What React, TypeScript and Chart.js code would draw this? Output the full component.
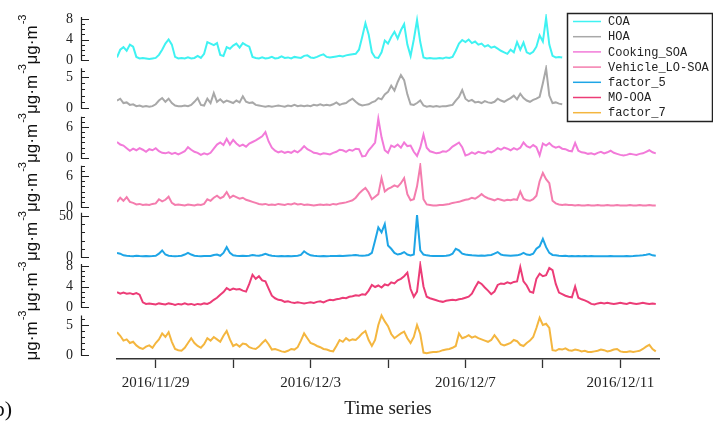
import React, { useEffect, useRef } from 'react';
import { Chart, registerables } from 'chart.js';
Chart.register(...registerables);

const SERIF = '"Liberation Serif", "Times New Roman", serif';
const SANS = '"Liberation Sans", Arial, sans-serif';
const MONO = '"Liberation Mono", "Courier New", monospace';

// ---------- data ----------
const SERIES_NAMES = ['COA', 'HOA', 'Cooking_SOA', 'Vehicle_LO-SOA', 'factor_5', 'MO-OOA', 'factor_7'];
const START_DATE = '2016/11/28 00:00';
const STEP_HOURS = 2;
const X_TICK_HOURS = [24, 72, 120, 168, 216, 264, 312];
const X_TICK_LABELS = ['2016/11/29', '', '2016/12/3', '', '2016/12/7', '', '2016/12/11'];
const X_TITLE = 'Time series';
const UNIT_MAIN = 'μg·m';
const UNIT_SUP = '-3';

const Y_TICKS = [[0, 4, 8], [0, 5], [0, 6], [0, 6], [0, 50], [0, 4, 8], [0, 5]];

const COA = [
  0.5, 2.0, 2.5, 1.8, 3.0, 2.6, 0.6, 0.3, 0.4, 0.3, 0.2, 0.3,
  0.4, 1.0, 2.0, 3.2, 4.0, 3.0, 0.6, 0.3, 0.4, 0.3, 0.5, 0.3,
  0.4, 0.8, 0.4, 1.2, 3.5, 3.2, 2.9, 3.3, 1.0, 0.8, 2.5, 2.2,
  2.8, 3.2, 2.4, 3.3, 2.9, 2.6, 0.6, 0.4, 0.3, 0.5, 0.3, 0.4,
  0.6, 0.3, 0.4, 0.7, 0.4, 0.5, 0.3, 0.6, 0.5, 0.4, 0.8, 0.9,
  0.5, 0.4, 0.6, 0.9, 1.1, 0.6, 0.5, 0.6, 0.7, 0.8, 0.7, 0.9,
  1.0, 1.1, 1.2, 2.0, 4.5, 7.2, 5.0, 1.5, 0.5, 0.4, 1.5, 3.8,
  3.2, 4.5, 5.5, 4.2, 5.8, 7.0, 3.0, 0.8, 4.0, 7.8, 3.5, 0.5,
  0.3, 0.4, 0.3, 0.3, 0.4, 0.3, 0.5, 0.4, 0.6, 1.8, 3.2, 3.9,
  3.5, 4.0, 3.3, 3.6, 3.0, 3.2, 2.6, 2.9, 2.4, 2.6, 2.2, 1.8,
  1.5, 1.2, 2.0, 1.5, 3.5, 2.0, 3.4, 1.5, 1.2, 1.6, 2.6, 4.8,
  3.6, 8.2, 3.0, 0.8, 0.5, 0.6, 0.5,
];

const HOA = [
  1.2, 1.5, 0.8, 0.9, 0.5, 0.6, 0.3, 0.4, 0.2, 0.3, 0.2, 0.3,
  0.6, 1.2, 1.6, 1.0, 1.5, 0.8, 0.4, 0.3, 0.3, 0.4, 0.3, 0.5,
  1.0, 1.6, 0.5, 0.4, 1.5, 0.8, 2.4, 1.0, 1.4, 0.9, 1.2, 1.0,
  0.8, 1.2, 0.9, 1.9, 1.0, 0.8, 0.9, 0.5, 0.4, 0.3, 0.2, 0.3,
  0.2, 0.3, 0.4, 0.3, 0.2, 0.4, 0.3, 0.5, 0.3, 0.4, 0.3, 0.4,
  0.3, 0.5, 0.4, 0.6, 0.4, 0.5, 0.4, 0.6, 0.9, 0.5, 0.7, 0.8,
  1.2, 1.5, 1.0, 0.6, 0.4, 0.5, 0.6, 0.9, 1.1, 1.6, 1.4, 2.2,
  2.6, 3.6, 2.8, 4.2, 5.3, 4.5, 2.2, 0.6, 0.5, 0.8, 1.2, 0.4,
  0.2, 0.3, 0.2, 0.3, 0.2, 0.3, 0.3, 0.4, 0.5, 1.2, 1.8, 2.9,
  1.5, 1.1, 1.3, 0.9, 1.0, 0.8, 1.1, 0.9, 0.8, 1.0, 1.5, 1.2,
  1.0, 1.3, 1.6, 2.0, 1.4, 2.3, 1.6, 1.2, 1.0, 1.3, 1.5, 1.8,
  4.0, 6.4, 2.0, 0.8, 0.9, 0.7, 0.6,
];

const COOKING_SOA = [
  3.1, 2.6, 2.4, 1.9, 1.4, 1.8, 1.5, 1.9, 1.6, 1.2, 1.7, 1.5,
  1.9, 1.3, 1.0, 0.9, 1.1, 0.8, 1.0, 0.7, 1.0, 1.3, 2.1, 1.6,
  1.2, 1.0, 0.6, 0.9, 0.7, 1.0, 1.8, 2.6, 3.0, 2.5, 3.7, 2.6,
  3.5, 2.8, 2.3, 2.6, 2.2, 2.8, 3.1, 3.4, 3.8, 4.2, 5.0, 3.2,
  2.0, 1.4, 1.1, 1.3, 1.0, 1.2, 1.0, 1.4, 1.1, 1.6, 2.3, 1.7,
  1.4, 1.0, 0.9, 0.7, 0.9, 0.8, 0.7, 1.0, 1.2, 1.6, 1.5, 1.2,
  1.6, 1.4, 1.8, 1.7, 0.3, 0.4, 1.5, 2.2, 3.0, 7.6, 4.0, 1.5,
  1.0, 2.4, 2.1, 2.6, 2.0, 3.0, 2.3, 2.4, 1.2, 0.4, 2.0, 4.5,
  2.0, 1.3, 1.1, 0.9, 1.0, 1.3, 1.2, 1.6, 2.2, 2.6, 3.0, 2.1,
  0.5, 0.7, 1.1, 0.8, 1.2, 1.0, 0.9, 1.3, 1.1, 1.4, 1.9, 1.6,
  2.0, 1.8, 1.5, 1.9, 1.6, 2.0, 3.0, 2.3, 2.0, 2.5, 2.1, 0.5,
  2.8, 2.4, 2.9, 2.3, 2.0, 2.2, 1.8, 1.7, 1.4, 1.3, 2.9, 1.4,
  1.1, 1.0, 0.8, 0.9, 0.7, 1.0, 1.2, 0.9, 1.1, 1.4, 1.0, 0.8,
  0.6, 0.5, 0.6, 0.8, 0.7, 0.6, 0.8, 0.9, 1.2, 1.5, 1.1, 0.9,
];

const VEHICLE_LO_SOA = [
  1.0, 1.8, 1.2, 1.9, 1.0, 0.8, 0.5, 0.6, 0.4, 0.5, 0.4, 0.6,
  0.7, 1.5, 1.1, 1.4, 2.0, 0.8, 0.4, 0.5, 0.4, 0.3, 0.5, 0.4,
  0.3, 0.5, 0.4, 0.6, 1.5, 1.2, 1.8, 2.2, 1.7, 2.0, 2.9, 1.8,
  2.2, 1.9, 1.6, 1.8, 1.4, 1.2, 1.0, 0.8, 0.6, 0.5, 0.6, 0.4,
  0.5, 0.4, 0.6, 0.5, 0.4, 0.6, 0.5, 0.7, 0.5, 0.6, 0.4, 0.5,
  0.4, 0.3, 0.4, 0.5, 0.4, 0.5, 0.4, 0.6, 0.5, 0.7, 0.8, 0.9,
  1.1, 1.3, 1.8, 2.6, 3.2, 3.7, 2.8, 1.5, 2.0, 2.5, 5.6, 3.0,
  3.5, 3.8, 4.2, 3.9, 4.6, 5.6, 2.5, 1.3, 1.5, 4.0, 8.0, 1.5,
  0.5, 0.4, 0.3, 0.3, 0.4, 0.4, 0.5, 0.6, 0.8, 0.9, 1.0, 1.2,
  1.4, 1.5, 1.8, 1.6, 2.0, 2.5, 2.0, 1.7, 1.5, 1.3, 1.6, 1.4,
  1.2, 1.4, 1.3, 1.5, 1.4, 3.0, 1.6, 1.3, 1.2, 1.5, 2.2, 5.0,
  6.6, 5.4, 4.6, 1.2, 0.7, 0.5, 0.4, 0.5, 0.4, 0.4, 0.3, 0.4,
  0.3, 0.3, 0.4, 0.3, 0.3, 0.4, 0.3, 0.3, 0.4, 0.3, 0.3, 0.4,
  0.3, 0.3, 0.3, 0.4, 0.3, 0.3, 0.4, 0.3, 0.3, 0.4, 0.3, 0.3,
];

const FACTOR_5 = [
  5, 4, 2, 1.5, 1.2, 1.0, 1.5, 1.2, 1.0, 1.3, 1.0, 1.2,
  1.5, 4, 8, 3, 1.5, 1.2, 1.0, 1.2, 1.5, 3, 5, 3,
  1.5, 1.2, 1.0, 1.3, 1.1, 1.2, 2.5, 3, 1.5, 5, 12, 5,
  2, 1.5, 1.2, 1.4, 1.2, 1.5, 2.5, 1.8, 1.5, 2.5, 4, 2.5,
  1.5, 1.2, 1.0, 1.2, 1.0, 1.1, 1.0, 1.3, 1.5, 2.5, 7, 4,
  2, 1.5, 1.2, 1.0, 1.2, 1.0, 1.1, 1.3, 1.2, 1.5, 1.3, 1.6,
  1.8, 2.0, 2.5, 1.8, 1.5, 1.8, 2.5, 5, 20, 36, 30, 40,
  14, 10, 5, 3, 4, 6, 3, 2, 3, 51, 8, 3,
  2, 1.5, 1.3, 1.2, 1.3, 1.2, 1.5, 2, 4, 10, 8, 4,
  3, 2.5, 2, 1.8, 1.5, 1.8, 1.5, 2, 2.5, 4, 6, 3,
  2, 1.8, 1.5, 1.8, 2, 3, 5, 3, 2.5, 4, 10, 13,
  22, 12, 5, 2.5, 2, 1.5, 1.2, 1.5, 1.0, 1.2, 1.0, 1.3,
  1.0, 1.2, 1.0, 1.1, 0.9, 1.0, 0.8, 1.0, 0.9, 1.1, 0.8, 1.0,
  0.9, 1.0, 1.2, 1.0, 1.2, 1.5, 1.8, 2.2, 2.8, 3.5, 2.0, 1.5,
];

const MO_OOA = [
  2.9, 2.6, 2.8, 2.6, 2.7, 2.5, 2.7, 2.4, 0.9, 0.6, 0.7, 0.6,
  0.5, 0.7, 0.6, 0.5, 0.7, 0.6, 0.4, 0.6, 0.5, 0.7, 0.5, 0.6,
  0.4, 0.6, 0.5, 0.7, 0.6, 0.9, 1.4, 1.8, 2.4, 2.9, 3.7, 3.3,
  3.6, 3.4, 3.5, 3.2, 3.0, 4.5, 6.3, 5.5, 6.0, 5.2, 5.0, 3.6,
  2.2, 1.7, 1.4, 1.3, 1.0, 1.1, 0.9, 0.8, 0.9, 0.8, 0.7, 0.8,
  0.9, 0.8, 1.0, 1.1, 0.9, 1.2, 1.4, 1.3, 1.5, 1.6, 1.8, 1.7,
  2.0, 2.1, 2.3, 2.2, 2.5, 2.4, 3.2, 4.3, 3.9, 4.2, 3.8, 4.4,
  4.2, 4.8, 4.6, 5.2, 5.5, 6.0, 6.7, 3.5, 2.0, 3.0, 8.2, 4.0,
  2.0, 1.7, 1.5, 1.3, 1.1, 1.0, 1.2, 1.3, 1.4, 1.3, 1.5, 1.6,
  1.8, 2.0, 2.6, 3.8, 4.9, 4.5, 3.8, 3.2, 2.5, 3.0, 4.3, 4.6,
  4.5, 4.8, 4.6, 4.9, 5.0, 7.8, 5.0, 4.2, 3.0, 2.8, 5.5, 6.5,
  6.0, 6.2, 7.6, 7.2, 4.5, 2.8, 2.5, 2.2, 2.0, 1.9, 4.0, 1.8,
  1.5, 1.3, 1.0, 0.6, 0.5, 0.7, 0.8, 0.7, 0.8, 0.7, 0.6, 0.7,
  0.8, 0.7, 0.6, 0.8, 0.7, 0.6, 0.7, 0.8, 0.7, 0.6, 0.7, 0.6,
];

const FACTOR_7 = [
  3.8, 3.2, 2.4, 2.6, 2.0, 2.2, 1.6, 1.2, 1.0, 1.4, 1.6, 1.2,
  2.0, 2.6, 3.6, 3.0, 3.8, 2.2, 1.0, 0.8, 0.7, 1.2, 2.0, 2.8,
  2.0, 1.5, 1.2, 1.8, 2.8, 2.4, 3.0, 2.6, 2.2, 3.2, 4.0, 2.6,
  1.5, 1.8, 1.4, 1.9, 1.8, 1.3, 1.1, 1.0, 1.4, 2.0, 2.5, 1.8,
  0.9, 1.0, 0.8, 0.6, 0.5, 0.7, 1.0, 0.9, 1.3, 2.4, 3.6, 2.8,
  2.0, 1.8, 1.5, 1.3, 1.0, 0.9, 0.7, 0.6, 1.5, 2.5, 2.2, 2.8,
  2.4, 2.6, 2.5, 3.0, 3.6, 4.0, 2.5, 1.5, 2.5, 5.0, 6.6, 5.6,
  4.8, 3.5, 2.8, 3.2, 3.6, 3.9, 2.8, 2.0, 3.0, 5.0, 3.5, 0.4,
  0.3, 0.4, 0.5, 0.5, 0.6, 0.8, 0.9, 1.0, 1.2, 1.5, 3.6, 2.8,
  3.0, 3.3, 2.9, 3.1, 2.8, 2.6, 2.4, 2.2, 2.5, 3.3, 2.6, 1.8,
  1.6, 1.8, 2.0, 2.5, 2.3, 1.7, 1.5, 2.0, 2.4, 3.0, 4.5, 6.2,
  5.0, 5.2, 4.5, 0.8, 0.7, 1.0, 0.9, 1.1, 0.8, 0.7, 0.9, 0.8,
  0.6, 0.7, 0.5, 0.5, 0.6, 0.7, 0.9, 0.8, 0.6, 0.7, 0.9, 1.0,
  0.6, 0.5, 0.5, 0.6, 0.5, 0.6, 0.7, 1.0, 1.4, 1.7, 1.0, 0.6,
];

const SERIES_VALUES = [COA, HOA, COOKING_SOA, VEHICLE_LO_SOA, FACTOR_5, MO_OOA, FACTOR_7];

// ---------- styles / layout ----------
const COLORS = ['#3FF2F2', '#A8A8A8', '#F27AD9', '#F47DAE', '#1EA5E6', '#EC3C77', '#F4B63F'];
// slot: stack weight (px of height), min/max: axis range, axisTop: top of drawn axis line, minor: minor tick step
const PANELS = [
  { slot: 51, min: -0.98, max: 8.98, axisTop: 8.4, minor: 1 },
  { slot: 48, min: -0.81, max: 6.94, axisTop: 6.4, minor: 1 },
  { slot: 50, min: -0.97, max: 8.71, axisTop: 8, minor: 1 },
  { slot: 48, min: -0.77, max: 8.52, axisTop: 8, minor: 1 },
  { slot: 50, min: -4.9, max: 56.1, axisTop: 54, minor: 10 },
  { slot: 51, min: -0.98, max: 8.98, axisTop: 8.4, minor: 1 },
  { slot: 47, min: -0.67, max: 7.17, axisTop: 6.6, minor: 1 },
];
const AXIS_X = 81;
const UNIT_X = 37;
const LEGEND_BOX = { x: 567, y: 13, w: 145, h: 108 };

const decorPlugin = {
  id: 'decor',
  afterDraw(chart: any) {
    const ctx: CanvasRenderingContext2D = chart.ctx;
    ctx.save();
    PANELS.forEach((p, k) => {
      const s = chart.scales['y' + k];
      const y0 = s.getPixelForValue(0);
      const yt = s.getPixelForValue(p.axisTop);
      ctx.strokeStyle = '#222';
      ctx.lineWidth = 1.2;
      ctx.beginPath();
      ctx.moveTo(AXIS_X + 0.5, yt);
      ctx.lineTo(AXIS_X + 0.5, y0 + 0.6);
      for (let j = 0; j * p.minor <= p.axisTop + 1e-9; j++) {
        const v = j * p.minor;
        const y = Math.round(s.getPixelForValue(v)) + 0.5;
        const major = Y_TICKS[k].indexOf(v) >= 0;
        ctx.moveTo(AXIS_X, y);
        ctx.lineTo(AXIS_X + (major ? 8 : 4), y);
      }
      ctx.stroke();

      // unit label
      const cy = (s.top + s.bottom) / 2;
      ctx.save();
      ctx.translate(UNIT_X, cy);
      ctx.rotate(-Math.PI / 2);
      ctx.fillStyle = '#111';
      ctx.textBaseline = 'alphabetic';
      ctx.textAlign = 'left';
      ctx.font = '17px ' + SANS;
      const w1 = ctx.measureText(UNIT_MAIN).width;
      ctx.font = '11px ' + SANS;
      const w2 = ctx.measureText(UNIT_SUP).width;
      const start = -(w1 + w2 + 1) / 2;
      ctx.font = '17px ' + SANS;
      ctx.fillText(UNIT_MAIN, start, 0);
      ctx.font = '11px ' + SANS;
      ctx.fillText(UNIT_SUP, start + w1 + 1, -11);
      ctx.restore();
    });

    // legend
    const b = LEGEND_BOX;
    ctx.fillStyle = '#fff';
    ctx.fillRect(b.x, b.y, b.w, b.h);
    ctx.strokeStyle = '#222';
    ctx.lineWidth = 1.5;
    ctx.strokeRect(b.x + 0.5, b.y + 0.5, b.w, b.h);
    chart.data.datasets.forEach((ds: any, i: number) => {
      const y = b.y + 8.5 + i * 15.2;
      ctx.strokeStyle = ds.borderColor;
      ctx.lineWidth = 1.5;
      ctx.beginPath();
      ctx.moveTo(b.x + 6, y);
      ctx.lineTo(b.x + 34, y);
      ctx.stroke();
      ctx.fillStyle = '#222';
      ctx.font = '12px ' + MONO;
      ctx.textAlign = 'left';
      ctx.textBaseline = 'middle';
      ctx.fillText(ds.label, b.x + 41, y + 0.5);
    });

    // panel letter (cut at the left edge)
    ctx.fillStyle = '#111';
    ctx.font = '22px ' + SERIF;
    ctx.textAlign = 'right';
    ctx.textBaseline = 'alphabetic';
    ctx.fillText('(b)', 12, 416);
    ctx.restore();
  },
};

export default function App() {
  const ref = useRef<HTMLCanvasElement | null>(null);
  useEffect(() => {
    if (!ref.current) return;
    const scales: any = {
      x: {
        type: 'linear',
        min: 0,
        max: 336,
        afterBuildTicks: (s: any) => { s.ticks = X_TICK_HOURS.map((v) => ({ value: v })); },
        afterFit: (s: any) => { s.height = 62; },
        ticks: {
          autoSkip: false,
          maxRotation: 0,
          padding: 6,
          color: '#222',
          font: { size: 15, family: SERIF },
          callback: (_v: any, i: number) => X_TICK_LABELS[i],
        },
        grid: { display: true, drawOnChartArea: false, drawTicks: true, tickLength: 9, color: '#333', tickWidth: 1.3 },
        border: { display: true, color: '#333', width: 1.5 },
        title: { display: true, text: X_TITLE, color: '#222', font: { size: 19, family: SERIF }, padding: { top: 0, bottom: 1 } },
      },
    };
    PANELS.forEach((p, k) => {
      scales['y' + k] = {
        type: 'linear',
        position: 'left',
        stack: 'panels',
        stackWeight: p.slot,
        weight: 10 - k,
        min: p.min,
        max: p.max,
        afterBuildTicks: (s: any) => { s.ticks = Y_TICKS[k].map((v) => ({ value: v })); },
        afterFit: (s: any) => { s.width = 117; },
        ticks: { autoSkip: false, padding: 4, color: '#222', font: { size: 14, family: SERIF } },
        grid: { display: false, drawTicks: true, tickLength: 40 },
        border: { display: false },
      };
    });
    const datasets = SERIES_NAMES.map((name, k) => ({
      label: name,
      data: SERIES_VALUES[k].map((v, i) => ({ x: i * STEP_HOURS, y: v })),
      yAxisID: 'y' + k,
      borderColor: COLORS[k],
      backgroundColor: COLORS[k],
      borderWidth: 2,
      pointRadius: 0,
      tension: 0,
      fill: false,
    }));
    const chart = new Chart(ref.current, {
      type: 'line',
      data: { datasets },
      options: {
        animation: false,
        responsive: false,
        parsing: true,
        layout: { padding: { top: 14, right: 54, bottom: 0, left: 0 } },
        plugins: { legend: { display: false }, tooltip: { enabled: false }, title: { display: false } },
        scales,
      } as any,
      plugins: [decorPlugin],
    });
    return () => chart.destroy();
  }, []);
  return (
    <div style={{ position: 'fixed', left: 0, top: 0, width: 713, height: 421, background: '#fff' }} data-start={START_DATE}>
      <canvas ref={ref} width={713} height={421} style={{ width: 713, height: 421, display: 'block' }} />
    </div>
  );
}
